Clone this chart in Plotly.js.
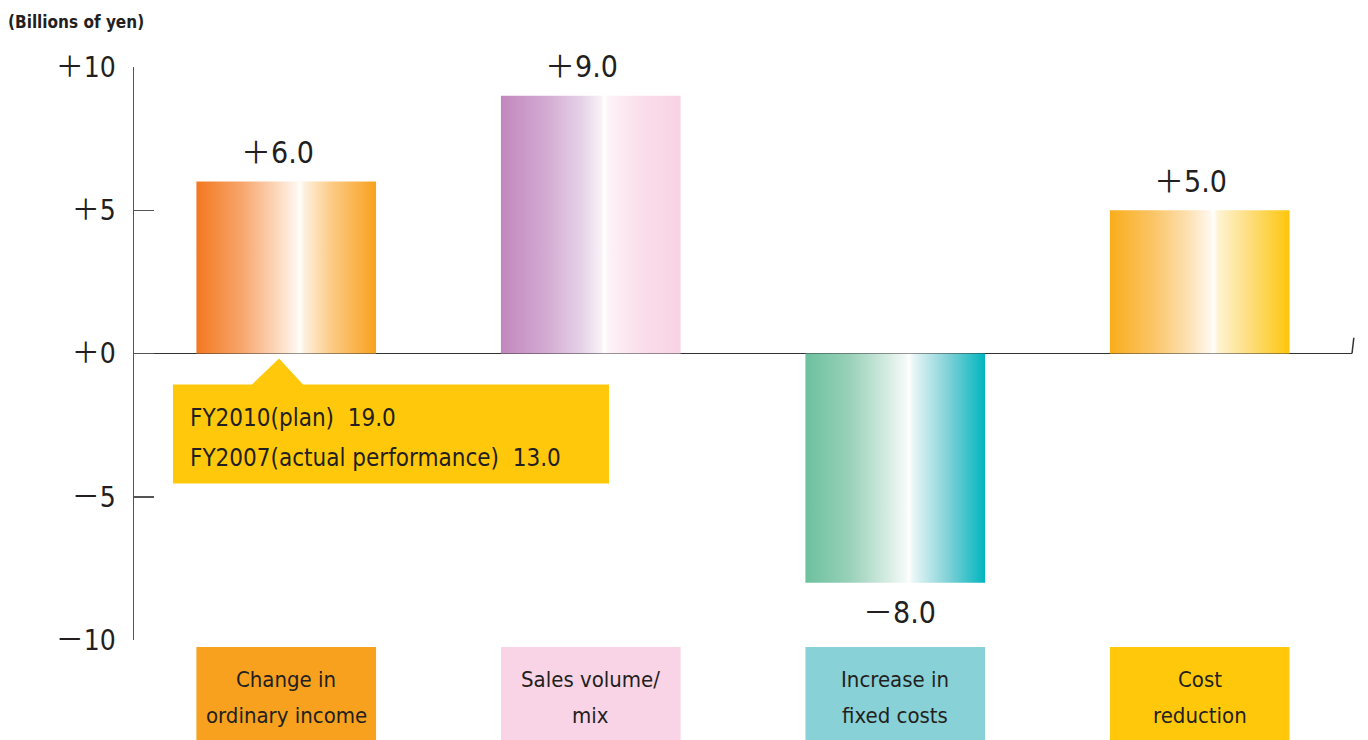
<!DOCTYPE html>
<html>
<head>
<meta charset="utf-8">
<script src="https://cdn.plot.ly/plotly-3.0.1.min.js"></script>
<style>html,body{margin:0;padding:0;background:#fff;}#chart{width:1368px;height:740px;}</style>
</head>
<body>
<div id="chart"></div>
<script>
// ---- data ----
const categories = ["Change in<br>ordinary income", "Sales volume/<br>mix", "Increase in<br>fixed costs", "Cost<br>reduction"];
const values = [6.0, 9.0, -8.0, 5.0];
const tickValues = [10, 5, 0, -5, -10];
const tickLabels = ["＋10", "＋5", "＋0", "－5", "－10"];
const unitLabel = "(Billions of yen)";
const calloutLines = ["FY2010(plan)\u00a0\u00a019.0", "FY2007(actual performance)\u00a0\u00a013.0"];

// ---- styles ----
const FONT = '"DejaVu Sans Condensed", "Liberation Sans Narrow", "Roboto", "Noto Sans CJK JP", sans-serif';
const TXT = '#231f20';
const barScales = [
  [[0,'#F37820'],[0.25,'#F7A56C'],[0.45,'#FCD9BC'],[0.56,'#FFF6EE'],[0.575,'#FFFFFF'],[0.6,'#FEF0DE'],[0.75,'#FCCB86'],[1,'#F8A11D']],
  [[0,'#C287BE'],[0.25,'#D3AAD2'],[0.45,'#E6D2E8'],[0.56,'#F8F2F8'],[0.575,'#FFFFFF'],[0.6,'#FDF2F7'],[0.8,'#FADCEA'],[1,'#F8D2E4']],
  [[0,'#6CC19E'],[0.25,'#99D1B9'],[0.45,'#D3EBE1'],[0.56,'#F4FAF8'],[0.575,'#FFFFFF'],[0.6,'#E8F6F7'],[0.8,'#7DD0D6'],[1,'#00B5BF']],
  [[0,'#F9AD1B'],[0.25,'#FBC669'],[0.45,'#FDE3B8'],[0.56,'#FFF8EE'],[0.575,'#FFFFFF'],[0.6,'#FEF3D4'],[0.8,'#FEDB72'],[1,'#FEC60B']]
];
const boxColors = ['#F7A11E', '#F9D4E6', '#88D1D7', '#FFC80B'];
const HALF = 0.295;
const PLOT_H = 573;

const traces = values.map((v, i) => ({
  type: 'scatter', mode: 'none', fill: 'toself',
  x: [i - HALF, i - HALF, i + HALF, i + HALF, i - HALF],
  y: [0, v, v, 0, 0],
  fillgradient: { type: 'horizontal', colorscale: barScales[i] },
  hoverinfo: 'skip', showlegend: false
}));

const annotations = [];
const shapes = [];
values.forEach((v, i) => {
  annotations.push({
    x: i, y: v, xref: 'x', yref: 'y', showarrow: false,
    text: (v >= 0 ? '＋' : '－') + Math.abs(v).toFixed(1),
    yshift: v >= 0 ? 29 : -30, xshift: v >= 0 ? -9 : 4,
    font: { family: FONT, size: 30, color: TXT }
  });
  shapes.push({
    type: 'rect', xref: 'x', yref: 'paper', layer: 'above',
    x0: i - HALF, x1: i + HALF, y0: -7 / PLOT_H, y1: -101 / PLOT_H,
    fillcolor: boxColors[i], line: { width: 0 }
  });
  categories[i].split('<br>').forEach((line, k) => {
    annotations.push({
      x: i, y: -(39 + 36 * k) / PLOT_H, xref: 'x', yref: 'paper', yanchor: 'middle',
      showarrow: false, text: line,
      font: { family: FONT, size: 22, color: TXT }
    });
  });
});
calloutLines.forEach((line, k) => {
  annotations.push({
    x: -0.3226, y: -(64 + 40 * k) / 28.65, xref: 'x', yref: 'y', xanchor: 'left', yanchor: 'middle',
    align: 'left', showarrow: false, text: line,
    font: { family: FONT, size: 24, color: TXT }
  });
});

shapes.push(
  { type: 'path', xref: 'x', yref: 'y', layer: 'above',
    path: 'M -0.372 -1.082 L -0.1125 -1.082 L -0.0237 -0.175 L 0.055 -1.082 L 1.06 -1.082 L 1.06 -4.537 L -0.372 -4.537 Z',
    fillcolor: '#FFC80B', line: { width: 0 } },
  { type: 'line', xref: 'paper', yref: 'y', x0: 1, y0: 0, x1: 1.0015, y1: 0.55,
    line: { color: '#333', width: 1.5 } }
);

const layout = {
  width: 1368, height: 740,
  margin: { l: 134, r: 16, t: 67, b: 100 },
  paper_bgcolor: '#fff', plot_bgcolor: '#fff',
  title: { text: unitLabel, x: 8 / 1368, xanchor: 'left', xref: 'container',
           y: 1 - 22 / 740, yanchor: 'middle', yref: 'container',
           font: { family: FONT, size: 17, color: TXT, weight: 'bold' } },
  xaxis: { range: [-0.5, 3.5], showgrid: false, zeroline: false, showline: false,
           showticklabels: false, ticks: '', fixedrange: true },
  yaxis: { range: [-10, 10], tickvals: tickValues, ticktext: tickLabels,
           showgrid: false, zeroline: true, zerolinecolor: '#333', zerolinewidth: 1.5,
           showline: true, linecolor: '#555', linewidth: 1.5,
           ticks: 'inside', ticklen: 20, tickwidth: 1.5, tickcolor: '#555',
           ticklabelstandoff: 11,
           tickfont: { family: FONT, size: 28, color: TXT }, fixedrange: true },
  annotations: annotations,
  shapes: shapes,
  showlegend: false
};

Plotly.newPlot('chart', traces, layout, { staticPlot: true, displayModeBar: false });
</script>
</body>
</html>
